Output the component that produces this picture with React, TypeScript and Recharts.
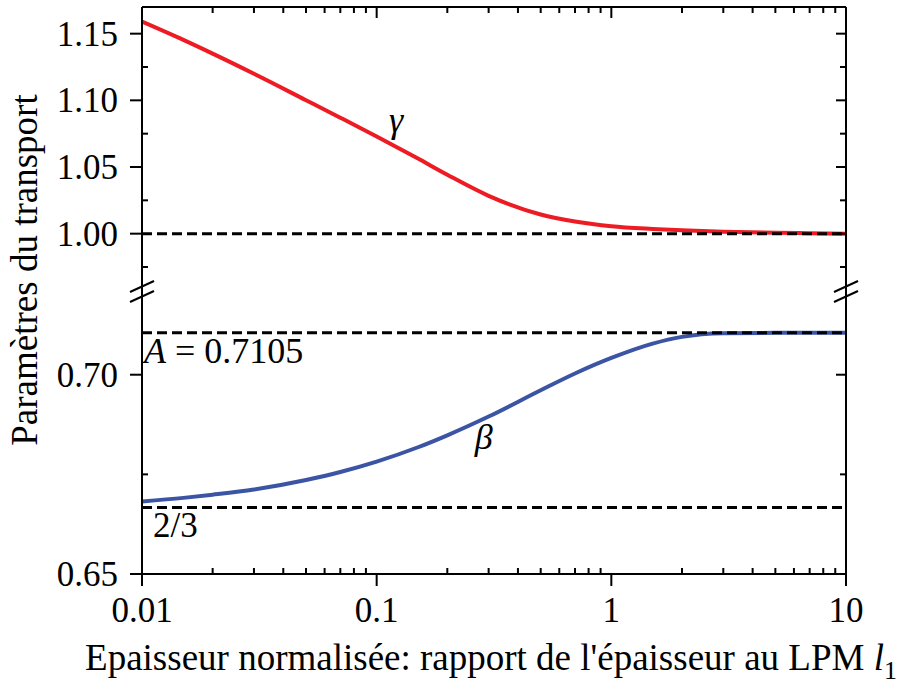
import { LineChart, Line, XAxis, YAxis, ReferenceLine, ReferenceDot } from 'recharts'

const FONT = 'Liberation Serif, Times New Roman, serif'
const textStyle = { fontFamily: FONT }

// epaisseur normalisee (l / l1), axe log
const thickness = [0.01, 0.015, 0.02, 0.03, 0.05, 0.07, 0.1, 0.15, 0.2, 0.3, 0.5, 0.7, 1, 1.5, 2, 3, 5, 7, 10]
const gamma = [1.159, 1.1453, 1.135, 1.1199, 1.1001, 1.087, 1.0729, 1.0563, 1.0442, 1.0284, 1.0144, 1.0091, 1.0055, 1.0035, 1.0025, 1.0015, 1.0007, 1.0003, 1.0]
const beta = [0.6682, 0.6691, 0.6699, 0.6712, 0.6736, 0.6756, 0.6782, 0.6818, 0.6848, 0.6895, 0.6961, 0.7003, 0.7042, 0.7078, 0.7095, 0.7104, 0.7105, 0.7105, 0.7105]

const xMajor = [0.01, 0.1, 1, 10]
const xMinor = [
  0.02, 0.03, 0.04, 0.05, 0.06, 0.07, 0.08, 0.09,
  0.2, 0.3, 0.4, 0.5, 0.6, 0.7, 0.8, 0.9,
  2, 3, 4, 5, 6, 7, 8, 9,
]
const gammaMajor = [1.0, 1.05, 1.1, 1.15]
const gammaMinor = [0.975, 1.025, 1.075, 1.125]
const betaMajor = [0.65, 0.7]
const betaMinor = [0.675]

const A_VALUE = 0.7105
const TWO_THIRDS = 2 / 3

// mise en page (px)
const W = 904
const H = 686
const LEFT = 142
const RIGHT = 846
const TOP = 7
const BREAK_TOP = 287
const BREAK_BOTTOM = 295
const BOTTOM = 574

const gammaData = thickness.map((x, i) => ({ x, gamma: gamma[i] }))
const betaData = thickness.map((x, i) => ({ x, beta: beta[i] }))

const axisLine = { stroke: '#000', strokeWidth: 2 }

type Side = 'left' | 'right' | 'top' | 'bottom'

function makeTick(side: Side, majors: number[], format?: (v: number) => string) {
  return (props: any) => {
    const { x, y, payload } = props
    const major = majors.includes(payload.value)
    let c: number[]
    if (side === 'left') c = major ? [x - 12, y, x, y] : [x, y, x + 6, y]
    else if (side === 'right') c = major ? [x - 10, y, x, y] : [x - 6, y, x, y]
    else if (side === 'top') c = major ? [x, y, x, y + 11] : [x, y, x, y + 6]
    else c = major ? [x, y, x, y + 12] : [x, y, x, y - 6]
    let label = null
    if (major && format) {
      label =
        side === 'left' ? (
          <text x={x - 24} y={y + 12} textAnchor="end" fontSize={35} style={textStyle} fill="#000">
            {format(payload.value)}
          </text>
        ) : (
          <text x={x} y={y + 48} textAnchor="middle" fontSize={35} style={textStyle} fill="#000">
            {format(payload.value)}
          </text>
        )
    }
    return (
      <g>
        <line x1={c[0]} y1={c[1]} x2={c[2]} y2={c[3]} stroke="#000" strokeWidth={2} />
        {label}
      </g>
    )
  }
}

const fmt2 = (v: number) => v.toFixed(2)
const fmtX = (v: number) => String(v)

const GreekLabel = (char: string) => (p: any) => (
  <text x={p.cx} y={p.cy} fontSize={36} fontStyle="italic" style={textStyle} fill="#000">
    {char}
  </text>
)

export default function App() {
  return (
    <div style={{ position: 'absolute', left: 0, top: 0, width: W, height: H, background: '#fff', fontFamily: FONT }}>
      {/* panneau du haut : gamma */}
      <div style={{ position: 'absolute', left: 0, top: 0 }}>
        <LineChart width={W} height={BREAK_TOP + 3} data={gammaData} margin={{ top: TOP - 1, right: 0, bottom: 3, left: 0 }}>
          <XAxis
            dataKey="x"
            type="number"
            scale="log"
            domain={[0.01, 10]}
            allowDataOverflow
            orientation="top"
            height={1}
            ticks={[...xMajor, ...xMinor]}
            interval={0}
            tickSize={0}
            tickMargin={0}
            tickLine={false}
            axisLine={axisLine}
            tick={makeTick('top', xMajor)}
          />
          <YAxis
            yAxisId="left"
            type="number"
            domain={[0.96, 1.17]}
            allowDataOverflow
            width={LEFT}
            ticks={[...gammaMajor, ...gammaMinor]}
            interval={0}
            tickSize={0}
            tickMargin={0}
            tickLine={false}
            axisLine={axisLine}
            tick={makeTick('left', gammaMajor, fmt2)}
          />
          <YAxis
            yAxisId="right"
            orientation="right"
            type="number"
            domain={[0.96, 1.17]}
            allowDataOverflow
            width={W - RIGHT}
            ticks={[...gammaMajor, ...gammaMinor]}
            interval={0}
            tickSize={0}
            tickMargin={0}
            tickLine={false}
            axisLine={axisLine}
            tick={makeTick('right', gammaMajor)}
          />
          <Line
            yAxisId="left"
            dataKey="gamma"
            type="monotone"
            stroke="#ED1C24"
            strokeWidth={4}
            dot={false}
            isAnimationActive={false}
          />
          <ReferenceLine yAxisId="left" y={1} stroke="#000" strokeWidth={3} strokeDasharray="10 5" />
          <ReferenceDot yAxisId="left" x={0.113} y={1.0765} r={0} shape={GreekLabel('γ')} />
        </LineChart>
      </div>

      {/* panneau du bas : beta */}
      <div style={{ position: 'absolute', left: 0, top: BREAK_TOP }}>
        <LineChart
          width={W}
          height={H - BREAK_TOP}
          data={betaData}
          margin={{ top: BREAK_BOTTOM - BREAK_TOP, right: 0, bottom: 0, left: 0 }}
        >
          <XAxis
            dataKey="x"
            type="number"
            scale="log"
            domain={[0.01, 10]}
            allowDataOverflow
            height={H - BOTTOM}
            ticks={[...xMajor, ...xMinor]}
            interval={0}
            tickSize={0}
            tickMargin={0}
            tickLine={false}
            axisLine={axisLine}
            tick={makeTick('bottom', xMajor, fmtX)}
          />
          <YAxis
            yAxisId="left"
            type="number"
            domain={[0.65, 0.72]}
            allowDataOverflow
            width={LEFT}
            ticks={[...betaMajor, ...betaMinor]}
            interval={0}
            tickSize={0}
            tickMargin={0}
            tickLine={false}
            axisLine={axisLine}
            tick={makeTick('left', betaMajor, fmt2)}
          />
          <YAxis
            yAxisId="right"
            orientation="right"
            type="number"
            domain={[0.65, 0.72]}
            allowDataOverflow
            width={W - RIGHT}
            ticks={[...betaMajor, ...betaMinor]}
            interval={0}
            tickSize={0}
            tickMargin={0}
            tickLine={false}
            axisLine={axisLine}
            tick={makeTick('right', betaMajor)}
          />
          <Line
            yAxisId="left"
            dataKey="beta"
            type="monotone"
            stroke="#3B54A4"
            strokeWidth={4}
            dot={false}
            isAnimationActive={false}
          />
          <ReferenceLine
            yAxisId="left"
            y={A_VALUE}
            stroke="#000"
            strokeWidth={3}
            strokeDasharray="10 5"
            label={(p: any) => (
              <text x={p.viewBox.x + 2} y={p.viewBox.y + 30} fontSize={36} style={textStyle} fill="#000">
                <tspan fontStyle="italic">A</tspan> = 0.7105
              </text>
            )}
          />
          <ReferenceLine
            yAxisId="left"
            y={TWO_THIRDS}
            stroke="#000"
            strokeWidth={3}
            strokeDasharray="10 5"
            label={(p: any) => (
              <text x={p.viewBox.x + 11} y={p.viewBox.y + 29} fontSize={35} style={textStyle} fill="#000">
                2/3
              </text>
            )}
          />
          <ReferenceDot yAxisId="left" x={0.262} y={0.6814} r={0} shape={GreekLabel('β')} />
        </LineChart>
      </div>

      {/* coupure d'axe et titres */}
      <svg width={W} height={H} style={{ position: 'absolute', left: 0, top: 0, pointerEvents: 'none' }}>
        {[LEFT, RIGHT].map((ax) => (
          <g key={ax} stroke="#000" strokeWidth={2}>
            <line x1={ax} y1={BREAK_TOP} x2={ax} y2={BREAK_BOTTOM} />
            <line x1={ax - 12} y1={292} x2={ax + 12} y2={281} />
            <line x1={ax - 12} y1={302} x2={ax + 12} y2={291} />
          </g>
        ))}
        <text
          x={37}
          y={270}
          textAnchor="middle"
          fontSize={37}
          style={textStyle}
          fill="#000"
          transform="rotate(-90, 37, 270)"
        >
          Paramètres du transport
        </text>
        <text x={491} y={670} textAnchor="middle" fontSize={37} style={textStyle} fill="#000">
          Epaisseur normalisée: rapport de l'épaisseur au LPM <tspan fontStyle="italic">l</tspan>
          <tspan dy={9} fontSize={26}>1</tspan>
        </text>
      </svg>
    </div>
  )
}
